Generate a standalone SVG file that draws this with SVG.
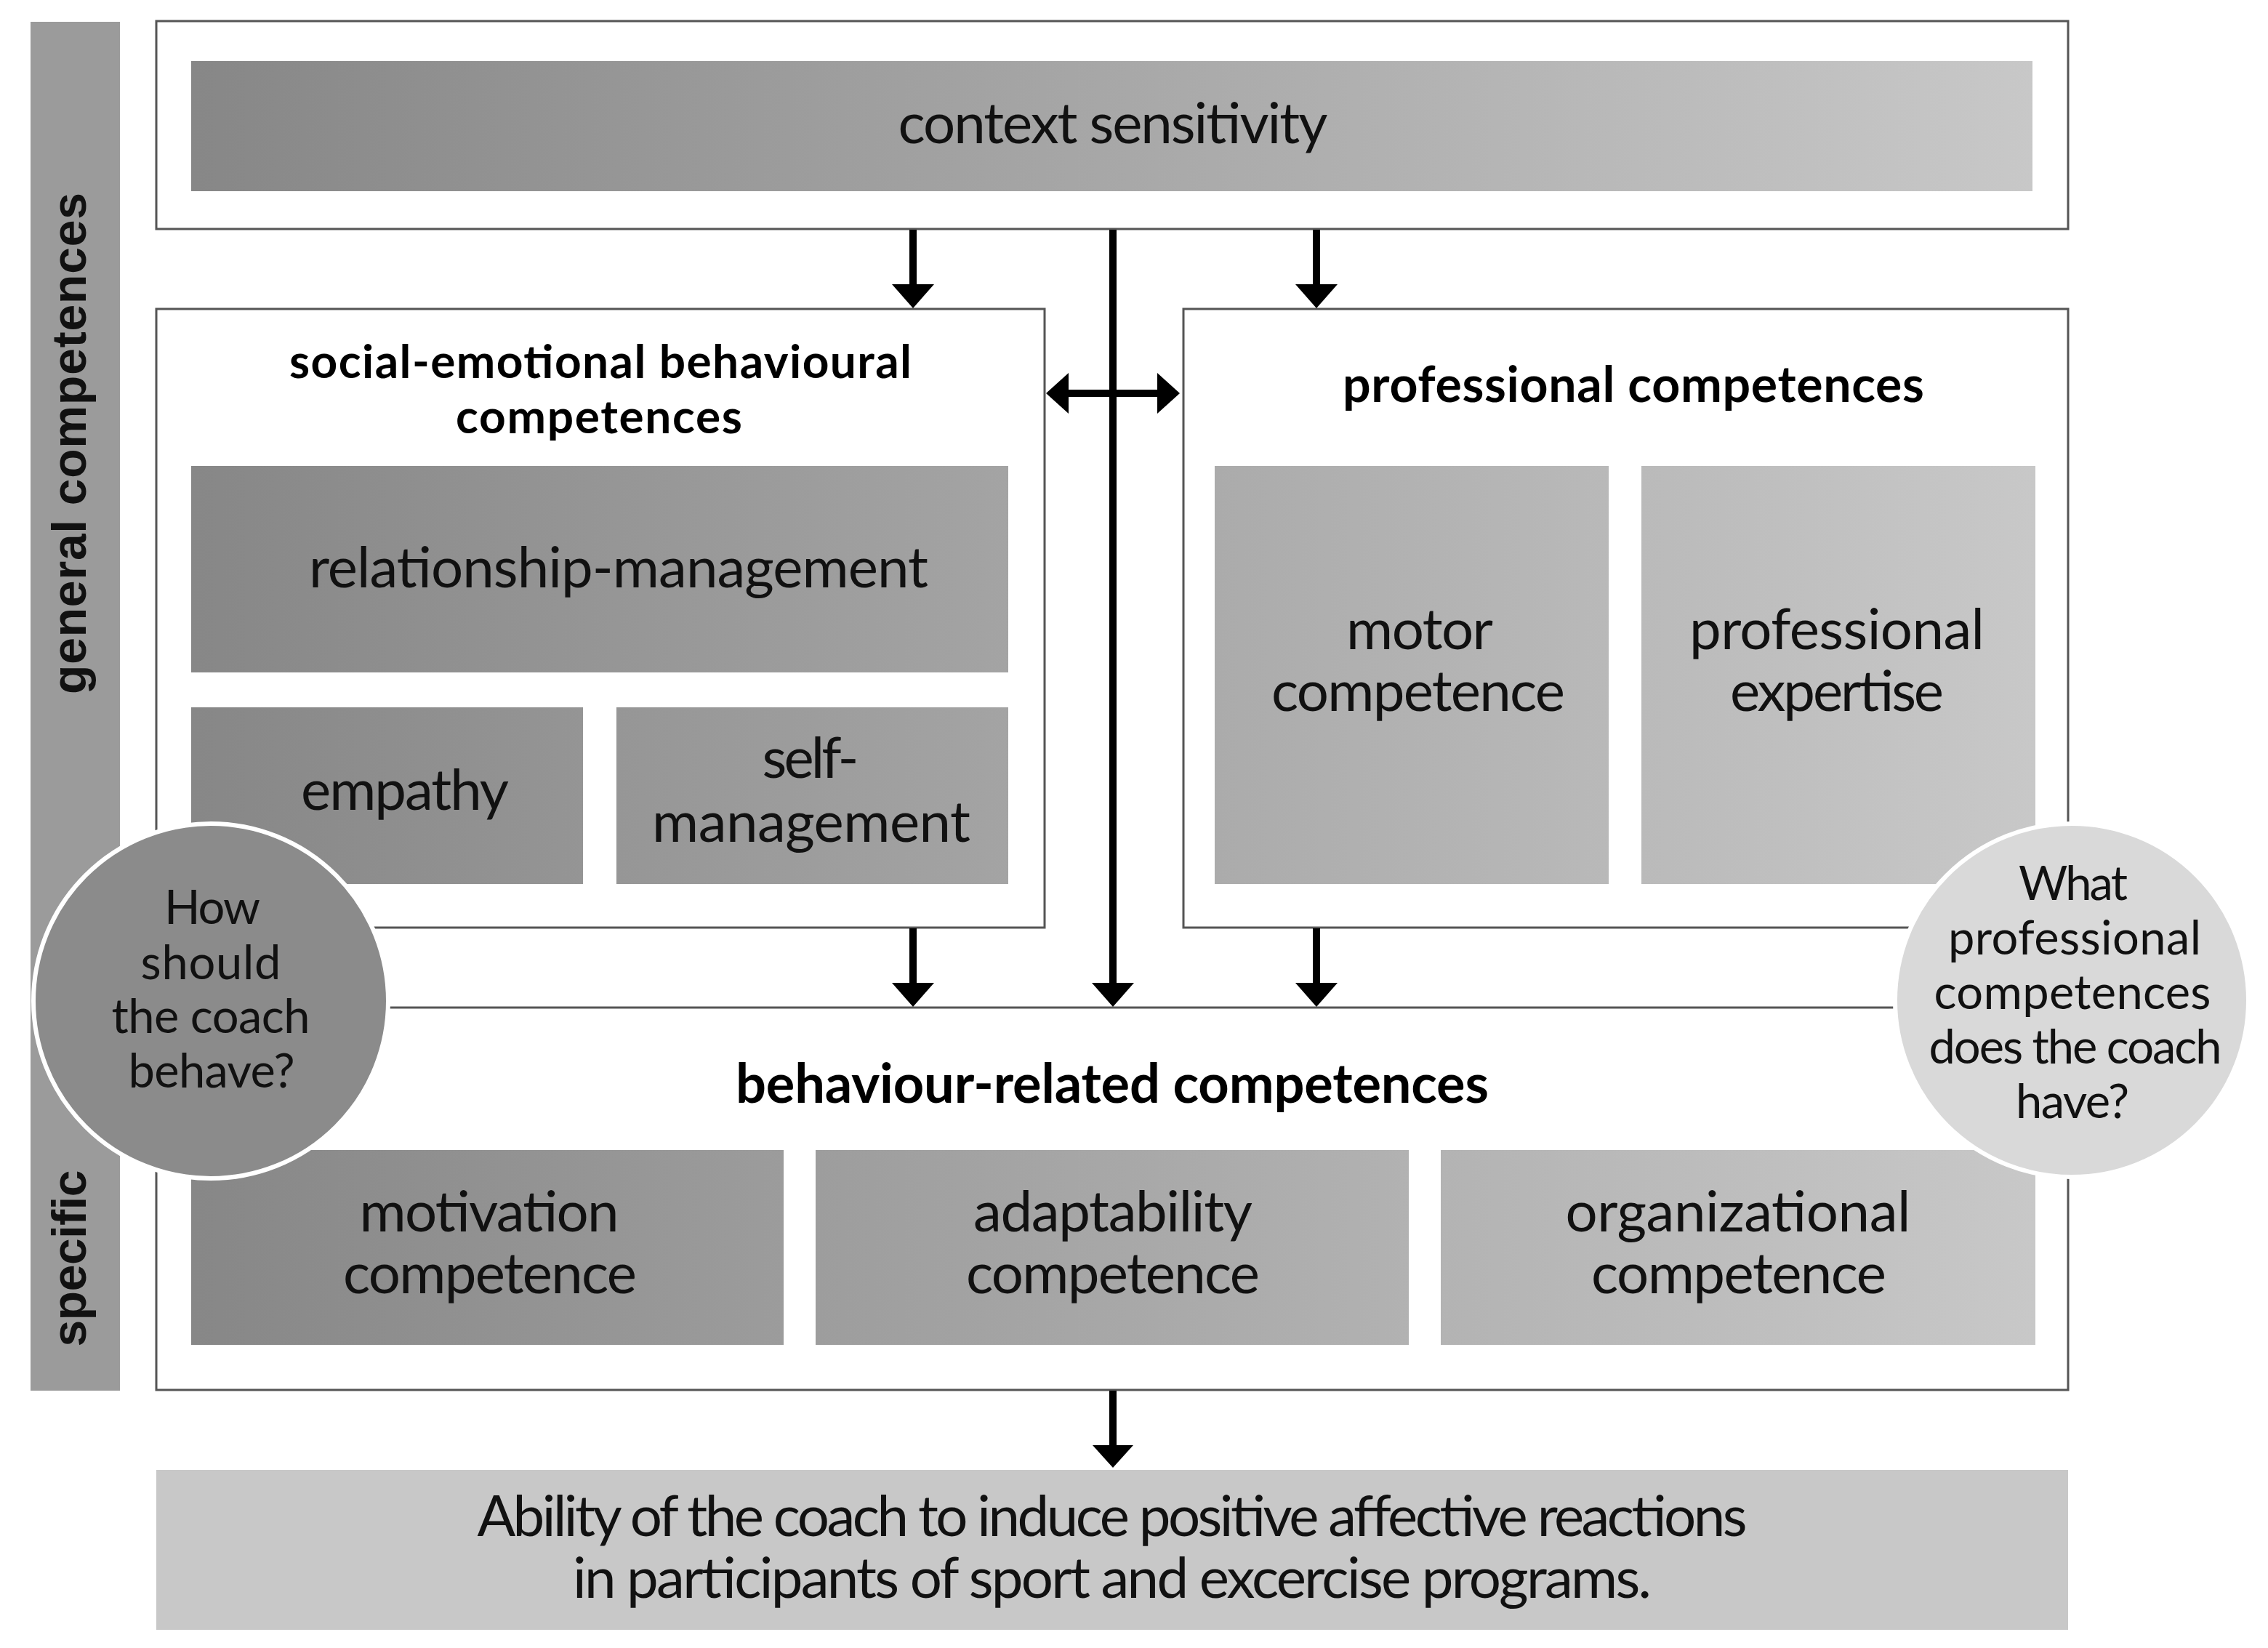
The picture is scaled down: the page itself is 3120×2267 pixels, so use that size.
<svg xmlns="http://www.w3.org/2000/svg" width="3120" height="2267" viewBox="0 0 3120 2267">
<defs>
<linearGradient id="g" gradientUnits="userSpaceOnUse" x1="263" y1="0" x2="2800" y2="0">
<stop offset="0" stop-color="#878787"/>
<stop offset="1" stop-color="#c8c8c8"/>
</linearGradient>
<style>
.frame{fill:#fff;stroke:#555;stroke-width:3}
.sub{fill:url(#g)}
.t{font-family:Lato,"Open Sans","Liberation Sans",sans-serif;font-size:78px;fill:#111;text-anchor:middle}
.c{font-size:65px}
.b{font-family:Lato,"Liberation Sans",sans-serif;font-weight:bold;fill:#000;text-anchor:middle}
.side{font-family:"Liberation Sans",Arial,sans-serif;font-weight:bold;font-size:66px;fill:#111;text-anchor:middle}
.ln{stroke:#000;stroke-width:10;fill:none}
.hd{fill:#000}
</style>
</defs>
<rect width="3120" height="2267" fill="#fff"/>

<g id="side-bar">
<rect x="42" y="30" width="123" height="1883" fill="#9b9b9b"/>
<text class="side" transform="translate(118,610) rotate(-90)" textLength="690">general competences</text>
<text class="side" transform="translate(118,1731) rotate(-90)" textLength="243">specific</text>
</g>

<g id="context">
<rect class="frame" x="215" y="29" width="2630" height="286"/>
<rect class="sub" x="263" y="84" width="2533" height="179"/>
<text class="t" x="1531" y="197" textLength="591">context sensitivity</text>
</g>

<g id="social-emotional">
<rect class="frame" x="215" y="425" width="1222" height="851"/>
<text class="b" font-size="64" x="826" y="520" textLength="856">social-emotional behavioural</text>
<text class="b" font-size="64" x="824" y="596" textLength="394">competences</text>
</g>
<g id="relationship-management">
<rect class="sub" x="263" y="641" width="1124" height="284"/>
<text class="t" x="851" y="808" textLength="852">relationship-management</text>
</g>
<g id="empathy">
<rect class="sub" x="263" y="973" width="539" height="243"/>
<text class="t" x="557" y="1114" textLength="286">empathy</text>
</g>
<g id="self-management">
<rect class="sub" x="848" y="973" width="539" height="243"/>
<text class="t" x="1115" y="1070" textLength="133">self-</text>
<text class="t" x="1116" y="1158" textLength="438">management</text>
</g>

<g id="professional">
<rect class="frame" x="1628" y="425" width="1217" height="851"/>
<text class="b" font-size="68" x="2247" y="553" textLength="800">professional competences</text>
</g>
<g id="motor-competence">
<rect class="sub" x="1671" y="641" width="542" height="575"/>
<text class="t" x="1953" y="893" textLength="202">motor</text>
<text class="t" x="1951" y="978" textLength="404">competence</text>
</g>
<g id="professional-expertise">
<rect class="sub" x="2258" y="641" width="542" height="575"/>
<text class="t" x="2527" y="893" textLength="406">professional</text>
<text class="t" x="2527" y="978" textLength="294">expertise</text>
</g>

<g id="behaviour-related">
<rect class="frame" x="215" y="1386" width="2630" height="526"/>
<text class="b" font-size="74" x="1530" y="1517" textLength="1036">behaviour-related competences</text>
</g>
<g id="motivation-competence">
<rect class="sub" x="263" y="1582" width="815" height="268"/>
<text class="t" x="673" y="1694" textLength="357">motivation</text>
<text class="t" x="674" y="1779" textLength="404">competence</text>
</g>
<g id="adaptability-competence">
<rect class="sub" x="1122" y="1582" width="816" height="268"/>
<text class="t" x="1531" y="1694" textLength="384">adaptability</text>
<text class="t" x="1531" y="1779" textLength="404">competence</text>
</g>
<g id="organizational-competence">
<rect class="sub" x="1982" y="1582" width="818" height="268"/>
<text class="t" x="2391" y="1694" textLength="475">organizational</text>
<text class="t" x="2392" y="1779" textLength="406">competence</text>
</g>

<g id="outcome">
<rect x="215" y="2022" width="2630" height="220" fill="#c8c8c8"/>
<text class="t" font-size="68" x="1530" y="2113" textLength="1747">Ability of the coach to induce positive affective reactions</text>
<text class="t" font-size="68" x="1530" y="2198" textLength="1484">in participants of sport and excercise programs.</text>
</g>

<g id="connectors">
<line class="ln" x1="1256" y1="316" x2="1256" y2="395"/>
<polygon class="hd" points="1227,391 1285,391 1256,424"/>
<line class="ln" x1="1811" y1="316" x2="1811" y2="395"/>
<polygon class="hd" points="1782,391 1840,391 1811,424"/>
<line class="ln" x1="1531" y1="316" x2="1531" y2="1356"/>
<polygon class="hd" points="1502,1352 1560,1352 1531,1385"/>
<line class="ln" x1="1465" y1="541" x2="1596" y2="541"/>
<polygon class="hd" points="1439,541 1470,513 1470,569"/>
<polygon class="hd" points="1623,541 1592,513 1592,569"/>
<line class="ln" x1="1256" y1="1277" x2="1256" y2="1356"/>
<polygon class="hd" points="1227,1352 1285,1352 1256,1385"/>
<line class="ln" x1="1811" y1="1277" x2="1811" y2="1356"/>
<polygon class="hd" points="1782,1352 1840,1352 1811,1385"/>
<line class="ln" stroke-width="7" x1="1531" y1="1913" x2="1531" y2="1992"/>
<polygon class="hd" points="1503,1988 1559,1988 1531,2019"/>
</g>

<g id="question-behave">
<circle cx="290" cy="1377" r="244" fill="#8b8b8b" stroke="#fff" stroke-width="6"/>
<text class="t c" x="292" y="1271" textLength="132">How</text>
<text class="t c" x="290" y="1347" textLength="193">should</text>
<text class="t c" x="290" y="1421" textLength="273">the coach</text>
<text class="t c" x="291" y="1496" textLength="229">behave?</text>
</g>

<g id="question-professional">
<circle cx="2850" cy="1376" r="243" fill="#d9d9d9" stroke="#fff" stroke-width="6"/>
<text class="t c" x="2852" y="1238" textLength="150">What</text>
<text class="t c" x="2854" y="1313" textLength="348">professional</text>
<text class="t c" x="2851" y="1388" textLength="381">competences</text>
<text class="t c" x="2855" y="1463" textLength="403">does the coach</text>
<text class="t c" x="2851" y="1538" textLength="156">have?</text>
</g>
</svg>
